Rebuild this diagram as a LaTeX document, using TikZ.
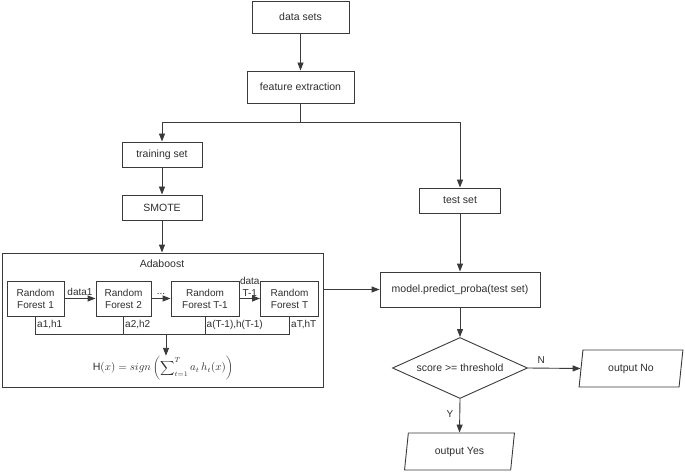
\documentclass[tikz,border=0pt]{standalone}
\usepackage{fontspec}
\setmainfont{Liberation Sans}
\usetikzlibrary{arrows.meta,shapes.geometric}
\definecolor{ln}{HTML}{3A3A3A}
\definecolor{tx}{HTML}{2E2E2E}
\tikzset{
  box/.style={draw=ln, line width=0.9pt, inner sep=0pt, align=center, text=tx, font=\fontsize{10.5}{12}\selectfont},
  rfbox/.style={box, font=\fontsize{10}{12}\selectfont},
  io/.style={trapezium, trapezium left angle=79, trapezium right angle=101, trapezium stretches=true,
    draw=ln, line width=0.9pt, inner sep=0pt, text=tx, font=\fontsize{10.5}{12}\selectfont},
  dec/.style={diamond, draw=ln, line width=0.9pt, inner sep=0pt, aspect=2.2, text=tx, font=\fontsize{10.5}{12}\selectfont},
  arr/.style={draw=ln, line width=0.9pt, -{Triangle[length=8pt,width=6pt]}},
  ln/.style={draw=ln, line width=0.9pt},
  lab/.style={text=tx, inner sep=0pt, font=\fontsize{10}{12}\selectfont, align=center},
}
\begin{document}
\begin{tikzpicture}[x=1pt,y=-1pt]
\useasboundingbox (0,0) rectangle (685,473);
% main column
\node[box, minimum width=97pt, minimum height=32pt] (ds) at (300.5,17) {data sets};
\node[box, minimum width=107pt, minimum height=32pt] (fe) at (300.5,87) {feature extraction};
\node[box, minimum width=80pt, minimum height=25pt] (tr) at (162,154.5) {training set};
\node[box, minimum width=80pt, minimum height=25pt] (sm) at (162,207.5) {SMOTE};
\node[box, minimum width=81pt, minimum height=25pt] (ts) at (460,200.5) {test set};
\node[box, minimum width=321pt, minimum height=134pt] (ada) at (162.5,320) {};
\node[box, minimum width=160pt, minimum height=35pt] (mp) at (460,289.5) {model.predict\_proba(test set)};
\node[dec, minimum width=135pt, minimum height=61pt] (dia) at (460,368) {score >= threshold};
\node[io, minimum width=104pt, minimum height=37pt] (on) at (631,368.5) {output No};
\node[io, minimum width=110pt, minimum height=37pt] (oy) at (459.5,451.5) {output Yes};
% Adaboost content
\node[lab, font=\fontsize{10.5}{12}\selectfont] (adal) at (162,264) {Adaboost};
\node[rfbox, minimum width=57pt, minimum height=35pt] (rf1) at (35.5,298.5) {Random\\Forest 1};
\node[rfbox, minimum width=55pt, minimum height=35pt] (rf2) at (123.5,298.5) {Random\\Forest 2};
\node[rfbox, minimum width=68pt, minimum height=35pt] (rf3) at (205,298.5) {Random\\Forest T-1};
\node[rfbox, minimum width=58pt, minimum height=35pt] (rf4) at (289.5,298.5) {Random\\Forest T};
\coordinate (j1) at (35.5,334);
\coordinate (j4) at (289.5,334);
\coordinate (jm) at (166,334);
\node[lab, font=\fontsize{10.6}{12}\selectfont] (hx) at (163,368) {$\displaystyle \mathrm{H}(x) = sign\left(\sum\nolimits_{t=1}^{T} a_t\,h_t(x)\right)$};
% connectors
\draw[arr] (ds) -- (fe);
\coordinate (br) at (300.5,122);
\draw[ln] (fe.south) -- (br);
\draw[arr] (br) -| (tr.north);
\draw[arr] (br) -| (ts.north);
\draw[arr] (tr) -- (sm);
\draw[arr] (sm.south) -- (sm.south |- ada.north);
\draw[arr] (ts) -- (mp);
\draw[arr] (ada.east |- mp.west) -- (mp.west);
\draw[arr] (mp) -- (dia);
\draw[arr] (dia.east) -- node[lab, pos=0.25, above=4pt] (nl) {N} (on.west);
\draw[arr] (dia.south) -- node[lab, pos=0.45, left=6pt] (yl) {Y} (oy.north);
% inside adaboost
\draw[arr] (rf1) -- node[lab, above=2pt] (d1) {data1} (rf2);
\draw[arr] (rf2) -- node[lab, above=4pt] (d2) {...} (rf3);
\draw[arr] (rf3) -- node[lab, above=2pt] (d3) {data\\T-1} (rf4);
\draw[ln] (rf1.south) -- (j1) -- (j4) -- (rf4.south);
\draw[ln] (rf2.south) -- (rf2.south |- j1);
\draw[ln] (rf3.south) -- (rf3.south |- j1);
\draw[arr] (jm) -- (jm |- hx.north);
\node[lab, anchor=west] (l1) at (37,325) {a1,h1};
\node[lab, anchor=west] (l2) at (125,325) {a2,h2};
\node[lab, anchor=west] (l3) at (206.5,325) {a(T-1),h(T-1)};
\node[lab, anchor=west] (l4) at (291,325) {aT,hT};
\end{tikzpicture}
\end{document}
